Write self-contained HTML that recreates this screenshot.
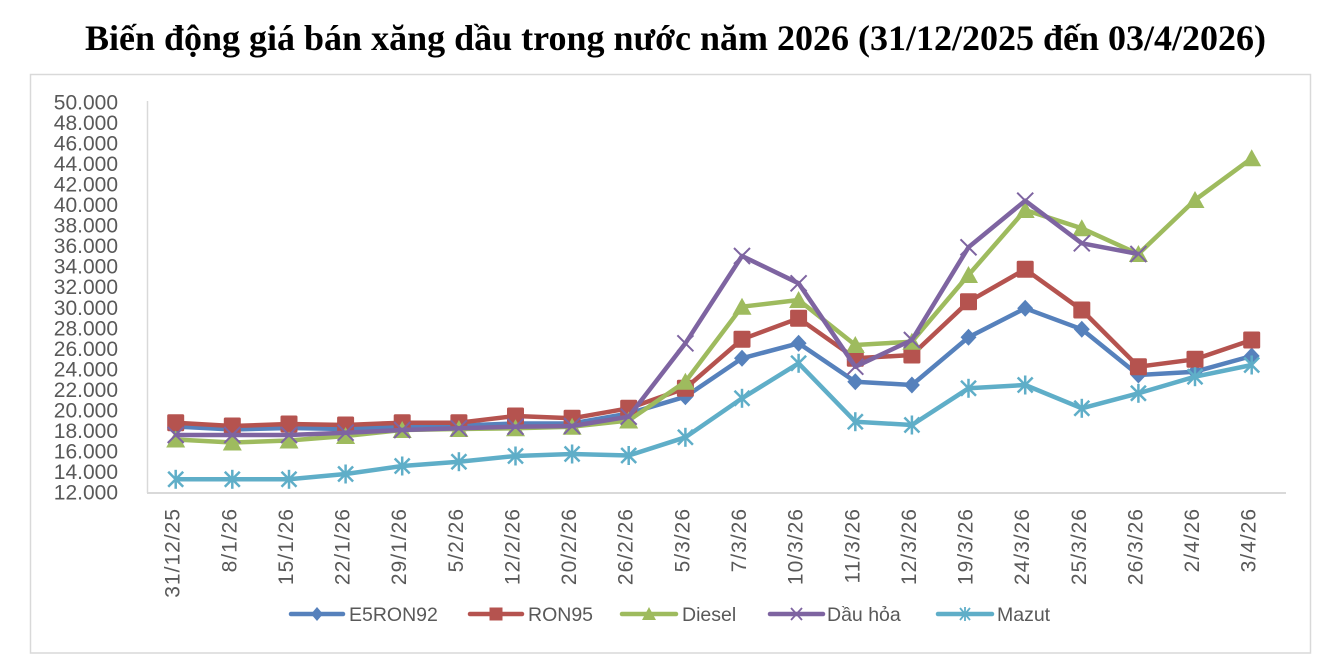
<!DOCTYPE html>
<html>
<head>
<meta charset="utf-8">
<style>
  html,body{margin:0;padding:0;background:#fff;}
  body{width:1322px;height:656px;overflow:hidden;}
  svg{display:block;}
  .yl{font-family:"Liberation Sans",Arial,sans-serif;font-size:21px;fill:#595959;}
  .xl{font-family:"Liberation Sans",Arial,sans-serif;font-size:21px;fill:#595959;letter-spacing:1px;}
  .lg{font-family:"Liberation Sans",Arial,sans-serif;font-size:19.5px;fill:#595959;}
  .tt{font-family:"Liberation Serif","Times New Roman",serif;font-size:36px;font-weight:bold;fill:#000;}
</style>
</head>
<body>
<svg width="1322" height="656" viewBox="0 0 1322 656" xmlns="http://www.w3.org/2000/svg">
  <defs>
    <polygon id="dia" points="0,-8.5 8,0 0,8.5 -8,0" fill="#5681BC"/>
    <rect id="sq" x="-8.5" y="-8.5" width="17" height="17" rx="1.5" fill="#B5534F"/>
    <polygon id="tri" points="0,-9 9.5,8 -9.5,8" fill="#9EBB5E"/>
    <g id="xm" stroke="#7E64A1" stroke-width="2" fill="none">
      <line x1="-8" y1="-8" x2="8" y2="8"/><line x1="-8" y1="8" x2="8" y2="-8"/>
    </g>
    <g id="st" stroke="#5FAEC8" stroke-width="2.5" fill="none">
      <line x1="-7.5" y1="-7.5" x2="7.5" y2="7.5"/><line x1="-7.5" y1="7.5" x2="7.5" y2="-7.5"/><line x1="0" y1="-9.5" x2="0" y2="9.5"/>
    </g>
  </defs>

  <rect x="0" y="0" width="1322" height="656" fill="#fff"/>

  <!-- Title -->
  <text class="tt" x="675.5" y="50" text-anchor="middle">Biến động giá bán xăng dầu trong nước năm 2026 (31/12/2025 đến 03/4/2026)</text>

  <!-- Chart border -->
  <rect x="30.5" y="74.5" width="1280" height="578.5" fill="none" stroke="#d9d9d9" stroke-width="1.5"/>

  <!-- Axes -->
  <line x1="147.5" y1="101" x2="147.5" y2="493" stroke="#d9d9d9" stroke-width="1.5"/>
  <line x1="147" y1="493" x2="1286" y2="493" stroke="#d9d9d9" stroke-width="2"/>

  <!-- Y labels -->
  <g class="yl" text-anchor="end">
    <text x="118" y="499.5">12.000</text>
    <text x="118" y="479">14.000</text>
    <text x="118" y="458.4">16.000</text>
    <text x="118" y="437.9">18.000</text>
    <text x="118" y="417.4">20.000</text>
    <text x="118" y="396.9">22.000</text>
    <text x="118" y="376.3">24.000</text>
    <text x="118" y="355.8">26.000</text>
    <text x="118" y="335.3">28.000</text>
    <text x="118" y="314.8">30.000</text>
    <text x="118" y="294.2">32.000</text>
    <text x="118" y="273.7">34.000</text>
    <text x="118" y="253.2">36.000</text>
    <text x="118" y="232.7">38.000</text>
    <text x="118" y="212.1">40.000</text>
    <text x="118" y="191.6">42.000</text>
    <text x="118" y="171.1">44.000</text>
    <text x="118" y="150.6">46.000</text>
    <text x="118" y="130">48.000</text>
    <text x="118" y="109.5">50.000</text>
  </g>

  <!-- X labels -->
  <g class="xl" text-anchor="end">
    <text transform="translate(179.7,508) rotate(-90)">31/12/25</text>
    <text transform="translate(236.3,508) rotate(-90)">8/1/26</text>
    <text transform="translate(293,508) rotate(-90)">15/1/26</text>
    <text transform="translate(349.6,508) rotate(-90)">22/1/26</text>
    <text transform="translate(406.2,508) rotate(-90)">29/1/26</text>
    <text transform="translate(462.9,508) rotate(-90)">5/2/26</text>
    <text transform="translate(519.5,508) rotate(-90)">12/2/26</text>
    <text transform="translate(576.1,508) rotate(-90)">20/2/26</text>
    <text transform="translate(632.7,508) rotate(-90)">26/2/26</text>
    <text transform="translate(689.4,508) rotate(-90)">5/3/26</text>
    <text transform="translate(746,508) rotate(-90)">7/3/26</text>
    <text transform="translate(802.6,508) rotate(-90)">10/3/26</text>
    <text transform="translate(859.3,508) rotate(-90)">11/3/26</text>
    <text transform="translate(915.9,508) rotate(-90)">12/3/26</text>
    <text transform="translate(972.5,508) rotate(-90)">19/3/26</text>
    <text transform="translate(1029.2,508) rotate(-90)">24/3/26</text>
    <text transform="translate(1085.8,508) rotate(-90)">25/3/26</text>
    <text transform="translate(1142.4,508) rotate(-90)">26/3/26</text>
    <text transform="translate(1199,508) rotate(-90)">2/4/26</text>
    <text transform="translate(1255.7,508) rotate(-90)">3/4/26</text>
  </g>

  <!-- E5RON92 -->
  <polyline fill="none" stroke="#5681BC" stroke-width="4.5" stroke-linejoin="round"
    points="175.7,426.5 232.3,429.5 289.0,428 345.6,429 402.2,426.5 458.9,425.5 515.5,423.5 572.1,423.5 628.7,413.5 685.4,396.7 742.0,358.3 798.6,343.3 855.3,381.7 911.9,385 968.5,337.3 1025.2,308.3 1081.8,329.3 1138.4,375 1195.0,371.7 1251.7,356"/>
  <g>
    <use href="#dia" x="175.7" y="426.5"/><use href="#dia" x="232.3" y="429.5"/><use href="#dia" x="289.0" y="428"/><use href="#dia" x="345.6" y="429"/><use href="#dia" x="402.2" y="426.5"/><use href="#dia" x="458.9" y="425.5"/><use href="#dia" x="515.5" y="423.5"/><use href="#dia" x="572.1" y="423.5"/><use href="#dia" x="628.7" y="413.5"/><use href="#dia" x="685.4" y="396.7"/><use href="#dia" x="742.0" y="358.3"/><use href="#dia" x="798.6" y="343.3"/><use href="#dia" x="855.3" y="381.7"/><use href="#dia" x="911.9" y="385"/><use href="#dia" x="968.5" y="337.3"/><use href="#dia" x="1025.2" y="308.3"/><use href="#dia" x="1081.8" y="329.3"/><use href="#dia" x="1138.4" y="375"/><use href="#dia" x="1195.0" y="371.7"/><use href="#dia" x="1251.7" y="356"/>
  </g>

  <!-- RON95 -->
  <polyline fill="none" stroke="#B5534F" stroke-width="4.5" stroke-linejoin="round"
    points="175.7,422.7 232.3,426 289.0,424 345.6,425 402.2,422.7 458.9,422.7 515.5,416 572.1,418.3 628.7,408.3 685.4,388.3 742.0,339.3 798.6,318.3 855.3,358.3 911.9,355 968.5,301.7 1025.2,269.3 1081.8,310 1138.4,366.7 1195.0,359.3 1251.7,340"/>
  <g>
    <use href="#sq" x="175.7" y="422.7"/><use href="#sq" x="232.3" y="426"/><use href="#sq" x="289.0" y="424"/><use href="#sq" x="345.6" y="425"/><use href="#sq" x="402.2" y="422.7"/><use href="#sq" x="458.9" y="422.7"/><use href="#sq" x="515.5" y="416"/><use href="#sq" x="572.1" y="418.3"/><use href="#sq" x="628.7" y="408.3"/><use href="#sq" x="685.4" y="388.3"/><use href="#sq" x="742.0" y="339.3"/><use href="#sq" x="798.6" y="318.3"/><use href="#sq" x="855.3" y="358.3"/><use href="#sq" x="911.9" y="355"/><use href="#sq" x="968.5" y="301.7"/><use href="#sq" x="1025.2" y="269.3"/><use href="#sq" x="1081.8" y="310"/><use href="#sq" x="1138.4" y="366.7"/><use href="#sq" x="1195.0" y="359.3"/><use href="#sq" x="1251.7" y="340"/>
  </g>

  <!-- Diesel -->
  <polyline fill="none" stroke="#9EBB5E" stroke-width="4.5" stroke-linejoin="round"
    points="175.7,439.5 232.3,442.5 289.0,440.5 345.6,436 402.2,430 458.9,429 515.5,428.3 572.1,426.7 628.7,420.5 685.4,381.7 742.0,306.7 798.6,300 855.3,345 911.9,341.7 968.5,275 1025.2,210 1081.8,228.3 1138.4,254 1195.0,200 1251.7,158.3"/>
  <g>
    <use href="#tri" x="175.7" y="439.5"/><use href="#tri" x="232.3" y="442.5"/><use href="#tri" x="289.0" y="440.5"/><use href="#tri" x="345.6" y="436"/><use href="#tri" x="402.2" y="430"/><use href="#tri" x="458.9" y="429"/><use href="#tri" x="515.5" y="428.3"/><use href="#tri" x="572.1" y="426.7"/><use href="#tri" x="628.7" y="420.5"/><use href="#tri" x="685.4" y="381.7"/><use href="#tri" x="742.0" y="306.7"/><use href="#tri" x="798.6" y="300"/><use href="#tri" x="855.3" y="345"/><use href="#tri" x="911.9" y="341.7"/><use href="#tri" x="968.5" y="275"/><use href="#tri" x="1025.2" y="210"/><use href="#tri" x="1081.8" y="228.3"/><use href="#tri" x="1138.4" y="254"/><use href="#tri" x="1195.0" y="200"/><use href="#tri" x="1251.7" y="158.3"/>
  </g>

  <!-- Dầu hỏa -->
  <polyline fill="none" stroke="#7E64A1" stroke-width="4.5" stroke-linejoin="round"
    points="175.7,435 232.3,435 289.0,435 345.6,432.7 402.2,430 458.9,428.3 515.5,426.7 572.1,426 628.7,416.7 685.4,343.3 742.0,256 798.6,283.3 855.3,366.7 911.9,340 968.5,247.3 1025.2,200.7 1081.8,243.3 1138.4,254"/>
  <g>
    <use href="#xm" x="175.7" y="435"/><use href="#xm" x="232.3" y="435"/><use href="#xm" x="289.0" y="435"/><use href="#xm" x="345.6" y="432.7"/><use href="#xm" x="402.2" y="430"/><use href="#xm" x="458.9" y="428.3"/><use href="#xm" x="515.5" y="426.7"/><use href="#xm" x="572.1" y="426"/><use href="#xm" x="628.7" y="416.7"/><use href="#xm" x="685.4" y="343.3"/><use href="#xm" x="742.0" y="256"/><use href="#xm" x="798.6" y="283.3"/><use href="#xm" x="855.3" y="366.7"/><use href="#xm" x="911.9" y="340"/><use href="#xm" x="968.5" y="247.3"/><use href="#xm" x="1025.2" y="200.7"/><use href="#xm" x="1081.8" y="243.3"/><use href="#xm" x="1138.4" y="254"/>
  </g>

  <!-- Mazut -->
  <polyline fill="none" stroke="#5FAEC8" stroke-width="4.5" stroke-linejoin="round"
    points="175.7,479.3 232.3,479.3 289.0,479.3 345.6,474 402.2,466 458.9,461.7 515.5,456 572.1,454 628.7,455.5 685.4,437.3 742.0,398.3 798.6,363.3 855.3,421.7 911.9,425 968.5,388.3 1025.2,385 1081.8,408.3 1138.4,393.3 1195.0,376.7 1251.7,365"/>
  <g>
    <use href="#st" x="175.7" y="479.3"/><use href="#st" x="232.3" y="479.3"/><use href="#st" x="289.0" y="479.3"/><use href="#st" x="345.6" y="474"/><use href="#st" x="402.2" y="466"/><use href="#st" x="458.9" y="461.7"/><use href="#st" x="515.5" y="456"/><use href="#st" x="572.1" y="454"/><use href="#st" x="628.7" y="455.5"/><use href="#st" x="685.4" y="437.3"/><use href="#st" x="742.0" y="398.3"/><use href="#st" x="798.6" y="363.3"/><use href="#st" x="855.3" y="421.7"/><use href="#st" x="911.9" y="425"/><use href="#st" x="968.5" y="388.3"/><use href="#st" x="1025.2" y="385"/><use href="#st" x="1081.8" y="408.3"/><use href="#st" x="1138.4" y="393.3"/><use href="#st" x="1195.0" y="376.7"/><use href="#st" x="1251.7" y="365"/>
  </g>

  <!-- Legend -->
  <g>
    <line x1="291" y1="614" x2="343" y2="614" stroke="#5681BC" stroke-width="4.5" stroke-linecap="round"/>
    <polygon points="317,607 323,614 317,621 311,614" fill="#5681BC"/>
    <text class="lg" x="349" y="621">E5RON92</text>

    <line x1="470" y1="614" x2="522" y2="614" stroke="#B5534F" stroke-width="4.5" stroke-linecap="round"/>
    <rect x="489.5" y="607.5" width="13" height="13" fill="#B5534F"/>
    <text class="lg" x="528" y="621">RON95</text>

    <line x1="622" y1="614" x2="676" y2="614" stroke="#9EBB5E" stroke-width="4.5" stroke-linecap="round"/>
    <polygon points="649,607 656,620 642,620" fill="#9EBB5E"/>
    <text class="lg" x="682" y="621">Diesel</text>

    <line x1="770" y1="614" x2="823" y2="614" stroke="#7E64A1" stroke-width="4.5" stroke-linecap="round"/>
    <g stroke="#7E64A1" stroke-width="1.8"><line x1="791" y1="608" x2="802" y2="620"/><line x1="791" y1="620" x2="802" y2="608"/></g>
    <text class="lg" x="827" y="621">Dầu hỏa</text>

    <line x1="938" y1="614" x2="992" y2="614" stroke="#5FAEC8" stroke-width="4.5" stroke-linecap="round"/>
    <g stroke="#5FAEC8" stroke-width="1.8"><line x1="960" y1="608" x2="970" y2="620"/><line x1="960" y1="620" x2="970" y2="608"/><line x1="965" y1="607" x2="965" y2="621"/></g>
    <text class="lg" x="997" y="621">Mazut</text>
  </g>
</svg>
</body>
</html>
